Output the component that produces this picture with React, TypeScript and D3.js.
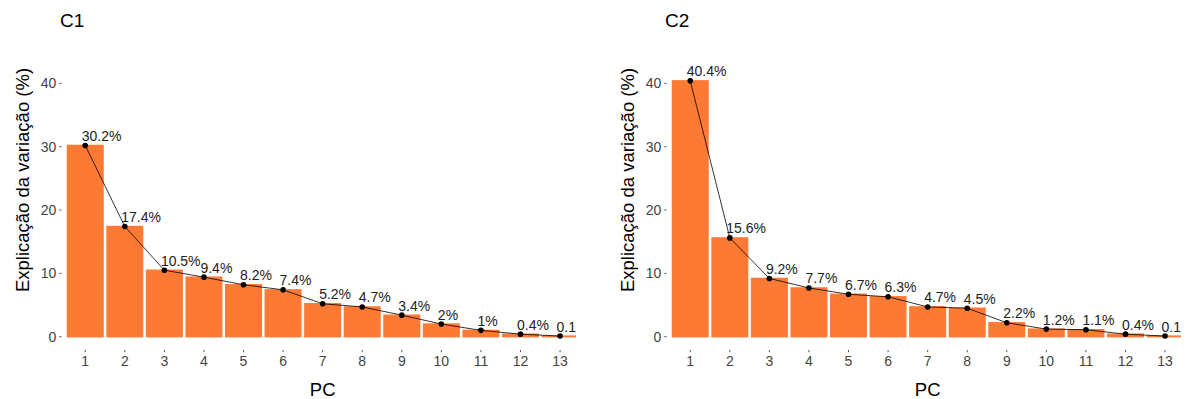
import React from 'react';
import * as d3 from 'd3';

// Principal components on the x axis
const pcs = ['1', '2', '3', '4', '5', '6', '7', '8', '9', '10', '11', '12', '13'];
// Percentage of variance explained by each component
const c1Values = [30.2, 17.4, 10.5, 9.4, 8.2, 7.4, 5.2, 4.7, 3.4, 2, 1, 0.4, 0.1];
const c2Values = [40.4, 15.6, 9.2, 7.7, 6.7, 6.3, 4.7, 4.5, 2.2, 1.2, 1.1, 0.4, 0.1];
const yTicks = [0, 10, 20, 30, 40];
const panelTitles = ['C1', 'C2'];

const WIDTH = 1187;
const HEIGHT = 399;
const FONT = '"Liberation Sans", Arial, Helvetica, sans-serif';
const BAR_COLOR = '#FD7A35';

interface PanelProps {
  id: string;
  title: string;
  values: number[];
  offsetX: number;
  clipRight: number;
}

function ScreePanel({ id, title, values, offsetX, clipRight }: PanelProps) {
  const left = 61.5 + offsetX;
  const right = 583.8 + offsetX;
  const top = 57.4;
  const bottom = 350;

  const x = d3
    .scaleBand<string>()
    .domain(pcs)
    .range([left, right])
    .paddingInner(0.1)
    .paddingOuter(0.15);

  const y = d3.scaleLinear().domain([-2.1, 44.1]).range([bottom, top]);

  const cx = (i: number) => (x(pcs[i]) as number) + x.bandwidth() / 2;
  const pts: [number, number][] = values.map((v, i) => [cx(i), y(v)]);
  const line = d3.line<[number, number]>()(pts) || '';

  const clipId = `clip-${id}`;
  const midX = (left + right) / 2;

  return (
    <g>
      <defs>
        <clipPath id={clipId}>
          <rect x={left} y={0} width={clipRight - left} height={bottom} />
        </clipPath>
      </defs>

      {/* plot title */}
      <text x={60 + offsetX} y={26.5} fontSize={19} fill="#000" fontFamily={FONT}>
        {title}
      </text>

      {/* y axis ticks and labels */}
      {yTicks.map((t) => (
        <g key={`y${t}`}>
          <line x1={left - 2.2} x2={left} y1={y(t)} y2={y(t)} stroke="#555" strokeWidth={1} />
          <text
            x={left - 5.2}
            y={y(t)}
            dy="0.36em"
            textAnchor="end"
            fontSize={14}
            fill="#444"
            fontFamily={FONT}
          >
            {t}
          </text>
        </g>
      ))}

      {/* x axis ticks and labels */}
      {pcs.map((p, i) => (
        <g key={`x${p}`}>
          <line x1={cx(i)} x2={cx(i)} y1={bottom} y2={bottom + 2.2} stroke="#555" strokeWidth={1} />
          <text
            x={cx(i)}
            y={366}
            textAnchor="middle"
            fontSize={14}
            fill="#444"
            fontFamily={FONT}
          >
            {p}
          </text>
        </g>
      ))}

      {/* axis titles */}
      <text x={midX} y={396} textAnchor="middle" fontSize={18.5} fill="#000" fontFamily={FONT}>
        PC
      </text>
      <text
        transform={`translate(${22 + offsetX},180) rotate(-90)`}
        textAnchor="middle"
        dominantBaseline="central"
        fontSize={18.5}
        fill="#000"
        fontFamily={FONT}
      >
        Explicação da variação (%)
      </text>

      <g clipPath={`url(#${clipId})`}>
        {/* bars */}
        {values.map((v, i) => (
          <rect
            key={`b${i}`}
            x={x(pcs[i])}
            y={y(v)}
            width={x.bandwidth()}
            height={y(0) - y(v)}
            fill={BAR_COLOR}
            stroke={BAR_COLOR}
            strokeWidth={1.4}
          />
        ))}

        {/* connecting line and points */}
        <path d={line} fill="none" stroke="#000" strokeWidth={0.8} />
        {pts.map(([px, py], i) => (
          <circle key={`p${i}`} cx={px} cy={py} r={2.8} fill="#000" />
        ))}

        {/* value labels */}
        {values.map((v, i) => (
          <text
            key={`l${i}`}
            x={cx(i)}
            y={y(v) - 4.5}
            dx={-3.5}
            fontSize={14}
            fill="#222"
            fontFamily={FONT}
          >
            {`${v}%`}
          </text>
        ))}
      </g>
    </g>
  );
}

export default function App() {
  return (
    <svg
      width={WIDTH}
      height={HEIGHT}
      viewBox={`0 0 ${WIDTH} ${HEIGHT}`}
      style={{ position: 'absolute', left: 0, top: 0, display: 'block', background: '#fff' }}
    >
      <rect x={0} y={0} width={WIDTH} height={HEIGHT} fill="#fff" />
      <ScreePanel id="c1" title={panelTitles[0]} values={c1Values} offsetX={0} clipRight={576} />
      <ScreePanel id="c2" title={panelTitles[1]} values={c2Values} offsetX={605} clipRight={1181} />
    </svg>
  );
}
